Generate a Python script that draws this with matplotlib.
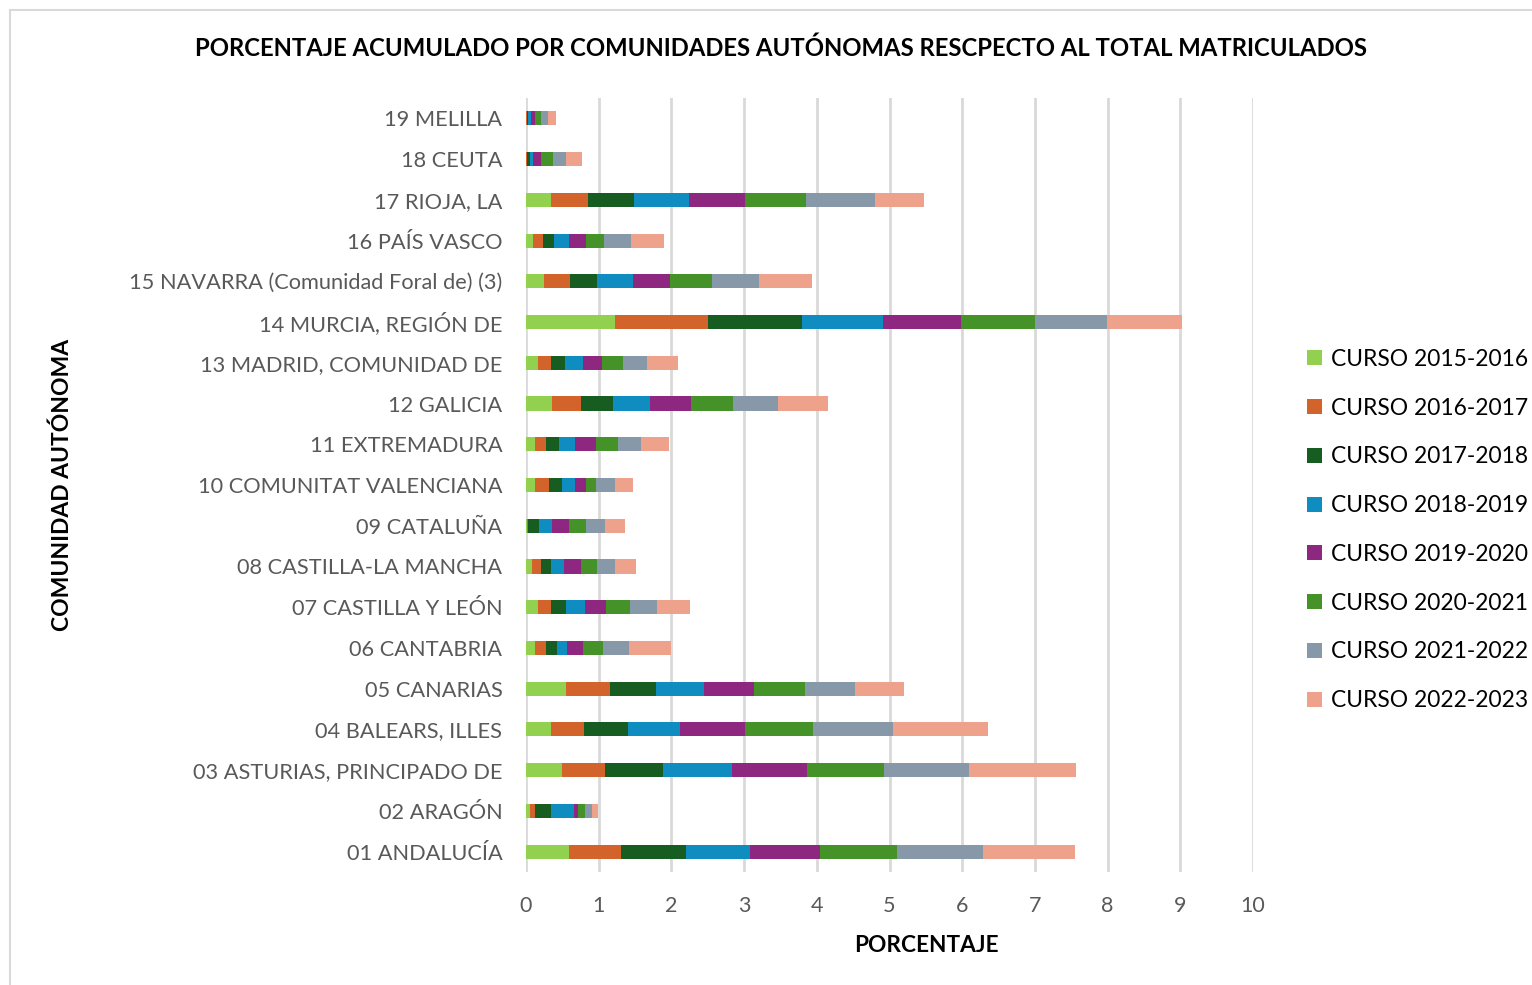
import matplotlib
matplotlib.use("Agg")
import matplotlib.pyplot as plt
from matplotlib.patches import Rectangle
import numpy as np

plt.rcParams['font.family'] = ['Lato', 'DejaVu Sans']

comunidades = ["01 ANDALUCÍA", "02 ARAGÓN", "03 ASTURIAS, PRINCIPADO DE", "04 BALEARS, ILLES",
               "05 CANARIAS", "06 CANTABRIA", "07 CASTILLA Y LEÓN", "08 CASTILLA-LA MANCHA",
               "09 CATALUÑA", "10 COMUNITAT VALENCIANA", "11 EXTREMADURA", "12 GALICIA",
               "13 MADRID, COMUNIDAD DE", "14 MURCIA, REGIÓN DE", "15 NAVARRA (Comunidad Foral de) (3)",
               "16 PAÍS VASCO", "17 RIOJA, LA", "18 CEUTA", "19 MELILLA"]

cursos = ["CURSO 2015-2016", "CURSO 2016-2017", "CURSO 2017-2018", "CURSO 2018-2019",
          "CURSO 2019-2020", "CURSO 2020-2021", "CURSO 2021-2022", "CURSO 2022-2023"]

curso_2015 = [0.59, 0.05, 0.49, 0.34, 0.55, 0.13, 0.16, 0.08, 0.01, 0.12, 0.12, 0.36, 0.16, 1.23, 0.25, 0.09, 0.34, 0.005, 0.005]
curso_2016 = [0.72, 0.08, 0.59, 0.46, 0.61, 0.14, 0.18, 0.12, 0.02, 0.19, 0.15, 0.39, 0.19, 1.27, 0.36, 0.15, 0.51, 0.01, 0.005]
curso_2017 = [0.89, 0.22, 0.80, 0.60, 0.63, 0.15, 0.21, 0.14, 0.15, 0.19, 0.18, 0.45, 0.19, 1.29, 0.36, 0.15, 0.64, 0.04, 0.013]
curso_2018 = [0.88, 0.31, 0.95, 0.72, 0.66, 0.15, 0.26, 0.18, 0.18, 0.17, 0.23, 0.51, 0.24, 1.12, 0.50, 0.20, 0.75, 0.035, 0.04]
curso_2019 = [0.97, 0.06, 1.04, 0.89, 0.69, 0.21, 0.29, 0.23, 0.23, 0.16, 0.28, 0.56, 0.26, 1.07, 0.51, 0.23, 0.77, 0.12, 0.065]
curso_2020 = [1.06, 0.09, 1.06, 0.94, 0.70, 0.28, 0.33, 0.22, 0.24, 0.13, 0.30, 0.58, 0.29, 1.02, 0.58, 0.25, 0.84, 0.16, 0.078]
curso_2021 = [1.18, 0.10, 1.17, 1.10, 0.69, 0.36, 0.37, 0.26, 0.26, 0.26, 0.32, 0.61, 0.33, 0.99, 0.65, 0.38, 0.95, 0.18, 0.092]
curso_2022 = [1.26, 0.08, 1.46, 1.30, 0.67, 0.58, 0.45, 0.28, 0.27, 0.25, 0.39, 0.69, 0.43, 1.04, 0.72, 0.45, 0.67, 0.22, 0.11]

series = [curso_2015, curso_2016, curso_2017, curso_2018, curso_2019, curso_2020, curso_2021, curso_2022]
colores = ["#92d050", "#d2642b", "#175c20", "#0f8cc0", "#8d2780", "#459328", "#8799a9", "#eea18b"]

fig = plt.figure(figsize=(15.32, 9.85), dpi=100)
fig.patches.append(Rectangle((10/1532, -0.05), 1.2, 1 - 10/985 + 0.05, transform=fig.transFigure,
                             fill=False, edgecolor="#d9d9d9", linewidth=1.5))

ax = fig.add_axes([526/1532, 1 - 872/985, 727/1532, 774/985])
y = np.arange(len(comunidades))
left = np.zeros(len(comunidades))
for vals, lab, col in zip(series, cursos, colores):
    ax.barh(y, vals, left=left, height=0.345, color=col, label=lab, linewidth=0, zorder=3)
    left += np.array(vals)

ax.set_xlim(0, 10)
ax.set_ylim(-0.5, len(comunidades) - 0.5)
ax.set_xticks(range(0, 11))
ax.set_yticks(y)
ax.set_yticklabels(comunidades, fontsize=15.7)
ax.grid(axis='x', color='#d9d9d9', linewidth=2, zorder=0)
for s in ax.spines.values():
    s.set_visible(False)
ax.tick_params(axis='both', length=0, labelcolor='#595959')
ax.tick_params(axis='x', labelsize=15.5, pad=17)
ax.tick_params(axis='y', pad=17)

fig.text(926/1532, 1 - 945/985, "PORCENTAJE", ha='center', va='center', fontsize=16.3, fontweight='bold')
fig.text(62/1532, 1 - 485/985, "COMUNIDAD AUTÓNOMA", ha='center', va='center', rotation=90,
         fontsize=16.5, fontweight='bold')
fig.text(781/1532, 1 - 48/985, "PORCENTAJE ACUMULADO POR COMUNIDADES AUTÓNOMAS RESCPECTO AL TOTAL MATRICULADOS",
         ha='center', va='center', fontsize=17.2, fontweight='bold')

handles, labels = ax.get_legend_handles_labels()
leg = fig.legend(handles, labels, loc='center left', bbox_to_anchor=(1296/1532, 1 - 530/985),
                 frameon=False, fontsize=16.4, handlelength=0.65, handleheight=0.65,
                 handletextpad=0.4, labelspacing=1.22, borderpad=0)

fig.savefig("out.png", dpi=100)
